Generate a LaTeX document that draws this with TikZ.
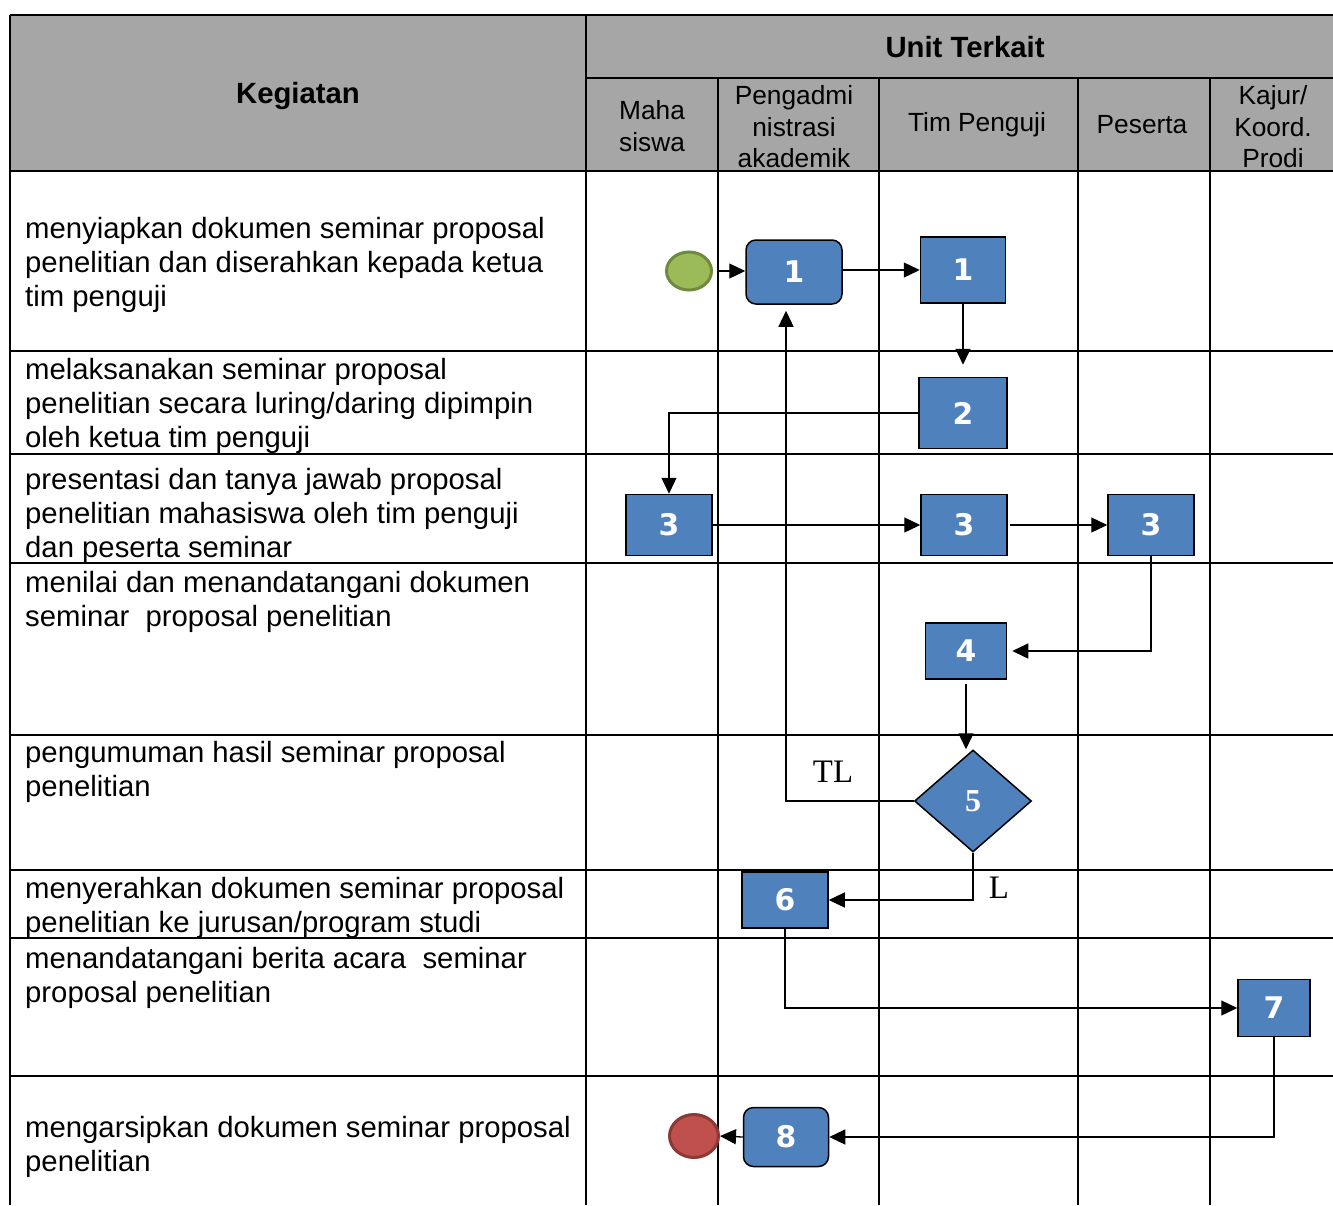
\documentclass[tikz,border=0pt]{standalone}
\usepackage{fontspec}
\setmainfont{Liberation Sans}
\newfontfamily\numfont{DejaVu Sans}
\newfontfamily\lblfont{Liberation Serif}
\usetikzlibrary{arrows.meta, positioning, shapes.geometric}
\definecolor{hdrgray}{HTML}{A6A6A6}
\definecolor{boxblue}{HTML}{4F81BD}
\definecolor{startfill}{HTML}{9BBB59}
\definecolor{startline}{HTML}{71893F}
\definecolor{endfill}{HTML}{C0504D}
\definecolor{endline}{HTML}{8C3836}

\begin{document}
\begin{tikzpicture}[x=1pt, y=-1pt,
    grid/.style={line width=2pt},
    txt/.style={anchor=west, align=left, inner sep=0pt, font=\fontsize{29.3}{34}\selectfont},
    head/.style={align=center, inner sep=0pt, font=\fontsize{26.3}{31.5}\selectfont},
    bighead/.style={inner sep=0pt, font=\bfseries\fontsize{29.3}{34}\selectfont},
    box/.style={rectangle, draw, line width=1.5pt, fill=boxblue, text=white, inner sep=0pt, font=\numfont\bfseries\fontsize{29.8}{34}\selectfont},
    rbox/.style={box, rounded corners=10pt},
    dec/.style={diamond, draw, line width=1.5pt, fill=boxblue, text=white, inner sep=0pt, font=\lblfont\bfseries\fontsize{32}{34}\selectfont},
    lbl/.style={inner sep=0pt, font=\lblfont\fontsize{32.8}{34}\selectfont},
    arr/.style={-{Triangle[length=16pt, width=15pt]}, line width=1.3pt}]
    \useasboundingbox (0,0) rectangle (1333,1205);
    \fill[hdrgray] (10,15) rectangle (1333,171);
    \draw[grid] (10,15) -- (1333,15);
    \draw[grid] (586,78) -- (1333,78);
    \draw[grid] (10,171) -- (1333,171);
    \draw[grid] (10,351) -- (1333,351);
    \draw[grid] (10,454) -- (1333,454);
    \draw[grid] (10,563) -- (1333,563);
    \draw[grid] (10,735) -- (1333,735);
    \draw[grid] (10,870) -- (1333,870);
    \draw[grid] (10,938) -- (1333,938);
    \draw[grid] (10,1076) -- (1333,1076);
    \draw[grid] (10,15) -- (10,1205);
    \draw[grid] (586,15) -- (586,1205);
    \draw[grid] (718,78) -- (718,1205);
    \draw[grid] (879,78) -- (879,1205);
    \draw[grid] (1078,78) -- (1078,1205);
    \draw[grid] (1210,78) -- (1210,1205);

    \node[bighead] (hkeg) at (298,96) {Kegiatan};
    \node[bighead] (hunit) at (965,47) {Unit Terkait};
    \node[head] (hmhs) at (652,126) {Maha\\siswa};
    \node[head] (hadm) at (794,127) {Pengadmi\\nistrasi\\akademik};
    \node[head] (htim) at (977,125) {Tim Penguji};
    \node[head] (hpes) at (1142,125) {Peserta};
    \node[head] (hkaj) at (1273,127) {Kajur/\\Koord.\\Prodi};

    \node[txt] (k1) at (25,265) {menyiapkan dokumen seminar proposal\\penelitian dan diserahkan kepada ketua\\tim penguji};
    \node[txt] (k2) at (25,406) {melaksanakan seminar proposal\\penelitian secara luring/daring dipimpin\\oleh ketua tim penguji};
    \node[txt] (k3) at (25,516) {presentasi dan tanya jawab proposal\\penelitian mahasiswa oleh tim penguji\\dan peserta seminar};
    \node[txt] (k4) at (25,602) {menilai dan menandatangani dokumen\\seminar\ \ proposal penelitian};
    \node[txt] (k5) at (25,772) {pengumuman hasil seminar proposal\\penelitian};
    \node[txt] (k6) at (25,908) {menyerahkan dokumen seminar proposal\\penelitian ke jurusan/program studi};
    \node[txt] (k7) at (25,978) {menandatangani berita acara\ \ seminar\\proposal penelitian};
    \node[txt] (k8) at (25,1147) {mengarsipkan dokumen seminar proposal\\penelitian};

    \node[ellipse, draw=startline, fill=startfill, line width=3pt, minimum width=45pt, minimum height=38pt, inner sep=0pt] (nstart) at (689,271) {};
    \node[rbox, minimum width=96pt, minimum height=64pt] (n1a) at (794,272) {1};
    \node[box, minimum width=85pt, minimum height=66pt] (n1b) at (963,270) {1};
    \node[box, minimum width=88pt, minimum height=71pt] (n2) at (963,413) {2};
    \node[box, minimum width=86pt, minimum height=61pt] (n3a) at (669,525) {3};
    \node[box, minimum width=86pt, minimum height=61pt] (n3b) at (964,525) {3};
    \node[box, minimum width=86pt, minimum height=61pt] (n3c) at (1151,525) {3};
    \node[box, minimum width=81pt, minimum height=56pt] (n4) at (966,651) {4};
    \node[dec, minimum width=117pt, minimum height=102pt] (n5) at (973,801) {5};
    \node[box, minimum width=86pt, minimum height=56pt] (n6) at (785,900) {6};
    \node[box, minimum width=72pt, minimum height=57pt] (n7) at (1274,1008) {7};
    \node[rbox, minimum width=85pt, minimum height=59pt] (n8) at (786,1137) {8};
    \node[ellipse, draw=endline, fill=endfill, line width=3pt, minimum width=49pt, minimum height=43pt, inner sep=0pt] (nend) at (694,1136) {};
    \node[lbl] (ltl) at (833,772) {TL};
    \node[lbl] (ll) at (999,888) {L};

    \draw[arr, shorten <=6pt] (nstart.east) -- (nstart.east -| n1a.west);
    \draw[arr] (n1a.east |- n1b.west) -- (n1b.west);
    \draw[arr, shorten >=12pt] (n1b.south) -- (n2.north);
    \draw[arr] (n2.west) -| (n3a.north);
    \draw[arr] (n3a.east) -- (n3b.west);
    \draw[arr, shorten <=2pt] (n3b.east) -- (n3c.west);
    \draw[arr, shorten >=5pt] (n3c.south) |- (n4.east);
    \draw[arr, shorten <=4pt] (n4.south) -- (n4.south |- n5.north);
    \draw[arr, shorten >=6pt] (n5.west) -| ([xshift=-8pt]n1a.south);
    \draw[arr] (n5.south) |- (n6.east);
    \draw[arr] (n6.south) |- (n7.west);
    \draw[arr] (n7.south) |- (n8.east);
    \draw[arr] (n8.west) -- (nend.east);
\end{tikzpicture}
\end{document}
